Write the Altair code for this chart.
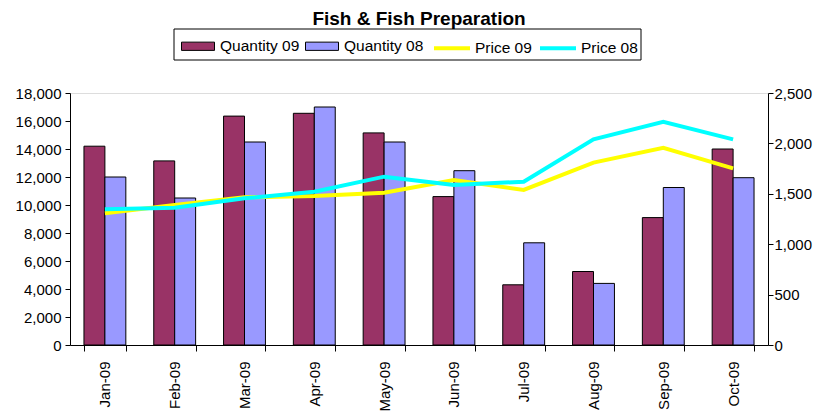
import altair as alt
import pandas as pd

months = ["Jan-09", "Feb-09", "Mar-09", "Apr-09", "May-09",
          "Jun-09", "Jul-09", "Aug-09", "Sep-09", "Oct-09"]
quantity_09 = [14200, 13150, 16350, 16550, 15150, 10600, 4300, 5250, 9100, 14000]
quantity_08 = [12000, 10500, 14500, 17000, 14500, 12450, 7300, 4400, 11250, 11950]
price_09 = [1306, 1389, 1465, 1478, 1511, 1637, 1538, 1809, 1957, 1753]
price_08 = [1346, 1362, 1455, 1521, 1670, 1587, 1620, 2040, 2215, 2040]

bar_series = ["Quantity 09", "Quantity 08"]
line_series = ["Price 09", "Price 08"]
bar_colors = ["#993366", "#9999FF"]
line_colors = ["#FFFF00", "#00FFFF"]

bars_df = pd.DataFrame(
    [{"month": m, "series": "Quantity 09", "value": v} for m, v in zip(months, quantity_09)]
    + [{"month": m, "series": "Quantity 08", "value": v} for m, v in zip(months, quantity_08)]
)
lines_df = pd.DataFrame(
    [{"month": m, "series": "Price 09", "value": v} for m, v in zip(months, price_09)]
    + [{"month": m, "series": "Price 08", "value": v} for m, v in zip(months, price_08)]
)

FONT = "Liberation Sans"

x_enc = alt.X(
    "month:N", sort=months,
    scale=alt.Scale(paddingInner=0.4, paddingOuter=0.2),
    axis=alt.Axis(title=None, labelAngle=270, tickBand="extent", labelFontSize=15,
                  labelFont=FONT, labelColor="black", domainColor="black",
                  tickColor="black", tickSize=6, labelPadding=10, grid=False),
)

bars = alt.Chart(bars_df).mark_bar(stroke="black", strokeWidth=1).encode(
    x=x_enc,
    xOffset=alt.XOffset("series:N", sort=bar_series, scale=alt.Scale(domain=bar_series, paddingInner=0)),
    y=alt.Y("value:Q",
            scale=alt.Scale(domain=[0, 18000], nice=False),
            axis=alt.Axis(title=None, values=list(range(0, 18001, 2000)), format=",.0f",
                          labelFontSize=15, labelFont=FONT, labelColor="black",
                          domainColor="black", tickColor="black", tickSize=5,
                          labelPadding=4, grid=False)),
    color=alt.Color("series:N",
                    scale=alt.Scale(domain=bar_series, range=bar_colors),
                    legend=alt.Legend(title=None, orient="none", direction="horizontal",
                                      legendX=111, legendY=-64, padding=0,
                                      symbolType="M-1,-0.25H1V0.25H-1Z", symbolSize=1089,
                                      symbolStrokeColor="black", symbolStrokeWidth=1,
                                      symbolOpacity=1,
                                      labelFontSize=15.5, labelFont=FONT, labelColor="black",
                                      labelOffset=5, columnPadding=3)),
)

line_y = alt.Y("value:Q",
               scale=alt.Scale(domain=[0, 2500], nice=False),
               axis=alt.Axis(title=None, orient="right", values=list(range(0, 2501, 500)),
                             format=",.0f", labelFontSize=15, labelFont=FONT, labelColor="black",
                             domainColor="black", tickColor="black", tickSize=5,
                             labelPadding=1, grid=False))
line_stroke = alt.Stroke("series:N",
                         scale=alt.Scale(domain=line_series, range=line_colors),
                         legend=alt.Legend(title=None, orient="none", direction="horizontal",
                                           legendX=362, legendY=-65, padding=0,
                                           symbolType="M-1,0H1", symbolSize=1296,
                                           symbolStrokeWidth=4,
                                           labelFontSize=15.5, labelFont=FONT, labelColor="black",
                                           labelOffset=3, columnPadding=0))

line09 = alt.Chart(lines_df).transform_filter(alt.datum.series == "Price 09").mark_line(strokeWidth=4).encode(
    x=alt.X("month:N", sort=months), y=line_y, stroke=line_stroke)
line08 = alt.Chart(lines_df).transform_filter(alt.datum.series == "Price 08").mark_line(strokeWidth=4).encode(
    x=alt.X("month:N", sort=months), y=alt.Y("value:Q"), stroke=line_stroke)

frame = alt.Chart(pd.DataFrame({"k": [0]})).mark_rect(fill="white", fillOpacity=0, stroke="black", strokeWidth=1).encode(
    x=alt.value(104), x2=alt.value(571), y=alt.value(-64), y2=alt.value(-33))

lines = alt.layer(line09, line08)

chart = alt.layer(bars, lines, frame).resolve_scale(y="independent").properties(
    width=698, height=252,
    autosize=alt.AutoSizeParams(type="none"),
    padding={"left": 62, "top": 85, "right": 45, "bottom": 67},
    title=alt.TitleParams("Fish & Fish Preparation", font=FONT, fontSize=19,
                          fontWeight="bold", color="black", anchor="middle", dy=5),
).configure_view(stroke=None).configure(background="white")

chart.save("out.html", embed_options={"renderer": "svg", "actions": False})
